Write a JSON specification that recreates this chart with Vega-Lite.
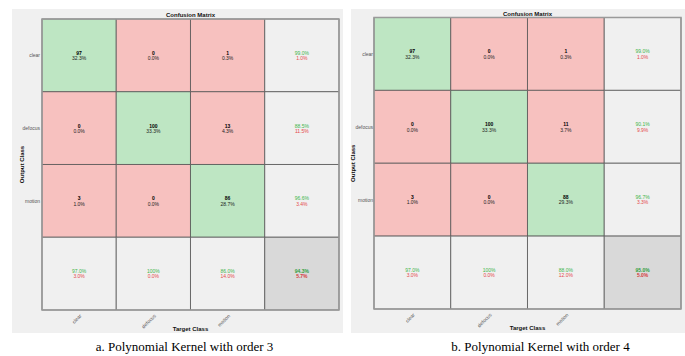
{
  "$schema": "https://vega.github.io/schema/vega-lite/v6.json",
  "background": "#ffffff",
  "padding": {"left": 12, "top": 9, "right": 0, "bottom": 0},
  "spacing": 6,
  "config": {
    "text": {"font": "Liberation Sans"},
    "axis": {"labelFont": "Liberation Sans"}
  },
  "datasets": {
    "a": [
      {"o": "clear", "t": "clear", "k": "hit", "v1": "97", "v2": "32.3%"},
      {"o": "clear", "t": "defocus", "k": "miss", "v1": "0", "v2": "0.0%"},
      {"o": "clear", "t": "motion", "k": "miss", "v1": "1", "v2": "0.3%"},
      {"o": "clear", "t": "total", "k": "sum", "v1": "99.0%", "v2": "1.0%"},
      {"o": "defocus", "t": "clear", "k": "miss", "v1": "0", "v2": "0.0%"},
      {"o": "defocus", "t": "defocus", "k": "hit", "v1": "100", "v2": "33.3%"},
      {"o": "defocus", "t": "motion", "k": "miss", "v1": "13", "v2": "4.3%"},
      {"o": "defocus", "t": "total", "k": "sum", "v1": "88.5%", "v2": "11.5%"},
      {"o": "motion", "t": "clear", "k": "miss", "v1": "3", "v2": "1.0%"},
      {"o": "motion", "t": "defocus", "k": "miss", "v1": "0", "v2": "0.0%"},
      {"o": "motion", "t": "motion", "k": "hit", "v1": "86", "v2": "28.7%"},
      {"o": "motion", "t": "total", "k": "sum", "v1": "96.6%", "v2": "3.4%"},
      {"o": "total", "t": "clear", "k": "sum", "v1": "97.0%", "v2": "3.0%"},
      {"o": "total", "t": "defocus", "k": "sum", "v1": "100%", "v2": "0.0%"},
      {"o": "total", "t": "motion", "k": "sum", "v1": "86.0%", "v2": "14.0%"},
      {"o": "total", "t": "total", "k": "all", "v1": "94.3%", "v2": "5.7%"}
    ],
    "b": [
      {"o": "clear", "t": "clear", "k": "hit", "v1": "97", "v2": "32.3%"},
      {"o": "clear", "t": "defocus", "k": "miss", "v1": "0", "v2": "0.0%"},
      {"o": "clear", "t": "motion", "k": "miss", "v1": "1", "v2": "0.3%"},
      {"o": "clear", "t": "total", "k": "sum", "v1": "99.0%", "v2": "1.0%"},
      {"o": "defocus", "t": "clear", "k": "miss", "v1": "0", "v2": "0.0%"},
      {"o": "defocus", "t": "defocus", "k": "hit", "v1": "100", "v2": "33.3%"},
      {"o": "defocus", "t": "motion", "k": "miss", "v1": "11", "v2": "3.7%"},
      {"o": "defocus", "t": "total", "k": "sum", "v1": "90.1%", "v2": "9.9%"},
      {"o": "motion", "t": "clear", "k": "miss", "v1": "3", "v2": "1.0%"},
      {"o": "motion", "t": "defocus", "k": "miss", "v1": "0", "v2": "0.0%"},
      {"o": "motion", "t": "motion", "k": "hit", "v1": "88", "v2": "29.3%"},
      {"o": "motion", "t": "total", "k": "sum", "v1": "96.7%", "v2": "3.3%"},
      {"o": "total", "t": "clear", "k": "sum", "v1": "97.0%", "v2": "3.0%"},
      {"o": "total", "t": "defocus", "k": "sum", "v1": "100%", "v2": "0.0%"},
      {"o": "total", "t": "motion", "k": "sum", "v1": "88.0%", "v2": "12.0%"},
      {"o": "total", "t": "total", "k": "all", "v1": "95.0%", "v2": "5.0%"}
    ]
  },
  "hconcat": [
    {
      "width": 331,
      "height": 324,
      "data": {"name": "a"},
      "view": {"fill": "#f0f0f0", "stroke": null},
      "title": {"text": "a. Polynomial Kernel with order 3", "orient": "bottom", "font": "Liberation Serif", "fontSize": 13, "fontWeight": "normal", "color": "#000000", "offset": 8, "dx": 7},
      "encoding": {
        "x": {"field": "t", "type": "nominal", "scale": {"domain": ["clear", "defocus", "motion", "total"], "paddingInner": 0, "paddingOuter": 0.229, "align": 0.882},
          "axis": {"orient": "bottom", "offset": -23, "title": null, "domain": false, "ticks": false, "grid": false, "labelAngle": -45, "labelFontSize": 5, "labelColor": "#555555", "labelPadding": 3, "labelExpr": "datum.label == 'total' ? '' : datum.label", "zindex": 1}},
        "y": {"field": "o", "type": "nominal", "scale": {"domain": ["clear", "defocus", "motion", "total"], "paddingInner": 0, "paddingOuter": 0.2268, "align": 0.303},
          "axis": {"orient": "left", "offset": -29, "title": null, "domain": false, "ticks": false, "grid": false, "labelFontSize": 5, "labelColor": "#555555", "labelPadding": 1.5, "labelExpr": "datum.label == 'total' ? '' : datum.label", "zindex": 1}}
      },
      "layer": [
        {"mark": {"type": "rect", "stroke": "#555555", "strokeWidth": 0.8},
          "encoding": {"color": {"field": "k", "type": "nominal", "scale": {"domain": ["hit", "miss", "sum", "all"], "range": ["#bee6c3", "#f7c1bf", "#f0f0f0", "#d9d9d9"]}, "legend": null}}},
        {"data": {"values": [{}]}, "mark": {"type": "rect", "fill": "transparent", "stroke": "#9a9a9a", "strokeWidth": 1.5},
          "encoding": {"x": {"datum": "clear", "bandPosition": 0}, "x2": {"datum": "total", "bandPosition": 1}, "y": {"datum": "clear", "bandPosition": 0}, "y2": {"datum": "total", "bandPosition": 1}}},
        {"transform": [{"filter": "datum.k == 'hit' || datum.k == 'miss'"}], "mark": {"type": "text", "fontSize": 5, "fontWeight": "bold", "color": "#000000", "dy": -2.5}, "encoding": {"text": {"field": "v1"}}},
        {"transform": [{"filter": "datum.k == 'hit' || datum.k == 'miss'"}], "mark": {"type": "text", "fontSize": 5, "color": "#222222", "dy": 2.8}, "encoding": {"text": {"field": "v2"}}},
        {"transform": [{"filter": "datum.k == 'sum'"}], "mark": {"type": "text", "fontSize": 5, "color": "#3db54a", "dy": -2.5}, "encoding": {"text": {"field": "v1"}}},
        {"transform": [{"filter": "datum.k == 'sum'"}], "mark": {"type": "text", "fontSize": 5, "color": "#e5484a", "dy": 2.8}, "encoding": {"text": {"field": "v2"}}},
        {"transform": [{"filter": "datum.k == 'all'"}], "mark": {"type": "text", "fontSize": 5, "fontWeight": "bold", "color": "#2f9e3d", "dy": -2.5}, "encoding": {"text": {"field": "v1"}}},
        {"transform": [{"filter": "datum.k == 'all'"}], "mark": {"type": "text", "fontSize": 5, "fontWeight": "bold", "color": "#d63a3c", "dy": 2.8}, "encoding": {"text": {"field": "v2"}}},
        {"data": {"values": [{"label": "Confusion Matrix"}]}, "mark": {"type": "text", "fontSize": 6, "fontWeight": "bold", "color": "#111111", "dy": -3.8}, "encoding": {"text": {"field": "label"}, "x": {"datum": "motion", "bandPosition": 0}, "y": {"datum": "clear", "bandPosition": 0}}},
        {"data": {"values": [{"label": "Output Class"}]}, "mark": {"type": "text", "fontSize": 6, "fontWeight": "bold", "color": "#111111", "angle": 270, "dx": 0, "dy": -20}, "encoding": {"text": {"field": "label"}, "x": {"datum": "clear", "bandPosition": 0}, "y": {"datum": "motion", "bandPosition": 0}}},
        {"data": {"values": [{"label": "Target Class"}]}, "mark": {"type": "text", "fontSize": 6, "fontWeight": "bold", "color": "#111111", "dy": 19}, "encoding": {"text": {"field": "label"}, "x": {"datum": "motion", "bandPosition": 0}, "y": {"datum": "total", "bandPosition": 1}}}
      ]
    },
    {
      "width": 335,
      "height": 324,
      "data": {"name": "b"},
      "view": {"fill": "#f0f0f0", "stroke": null},
      "title": {"text": "b. Polynomial Kernel with order 4", "orient": "bottom", "font": "Liberation Serif", "fontSize": 13, "fontWeight": "normal", "color": "#000000", "offset": 8, "dx": 22},
      "encoding": {
        "x": {"field": "t", "type": "nominal", "scale": {"domain": ["clear", "defocus", "motion", "total"], "paddingInner": 0, "paddingOuter": 0.1824, "align": 0.821},
          "axis": {"orient": "bottom", "offset": -24, "title": null, "domain": false, "ticks": false, "grid": false, "labelAngle": -45, "labelFontSize": 5, "labelColor": "#555555", "labelPadding": 3, "labelExpr": "datum.label == 'total' ? '' : datum.label", "zindex": 1}},
        "y": {"field": "o", "type": "nominal", "scale": {"domain": ["clear", "defocus", "motion", "total"], "paddingInner": 0, "paddingOuter": 0.223, "align": 0.2615},
          "axis": {"orient": "left", "offset": -23, "title": null, "domain": false, "ticks": false, "grid": false, "labelFontSize": 5, "labelColor": "#555555", "labelPadding": 1.5, "labelExpr": "datum.label == 'total' ? '' : datum.label", "zindex": 1}}
      },
      "layer": [
        {"mark": {"type": "rect", "stroke": "#555555", "strokeWidth": 0.8},
          "encoding": {"color": {"field": "k", "type": "nominal", "scale": {"domain": ["hit", "miss", "sum", "all"], "range": ["#bee6c3", "#f7c1bf", "#f0f0f0", "#d9d9d9"]}, "legend": null}}},
        {"data": {"values": [{}]}, "mark": {"type": "rect", "fill": "transparent", "stroke": "#9a9a9a", "strokeWidth": 1.5},
          "encoding": {"x": {"datum": "clear", "bandPosition": 0}, "x2": {"datum": "total", "bandPosition": 1}, "y": {"datum": "clear", "bandPosition": 0}, "y2": {"datum": "total", "bandPosition": 1}}},
        {"transform": [{"filter": "datum.k == 'hit' || datum.k == 'miss'"}], "mark": {"type": "text", "fontSize": 5, "fontWeight": "bold", "color": "#000000", "dy": -2.5}, "encoding": {"text": {"field": "v1"}}},
        {"transform": [{"filter": "datum.k == 'hit' || datum.k == 'miss'"}], "mark": {"type": "text", "fontSize": 5, "color": "#222222", "dy": 2.8}, "encoding": {"text": {"field": "v2"}}},
        {"transform": [{"filter": "datum.k == 'sum'"}], "mark": {"type": "text", "fontSize": 5, "color": "#3db54a", "dy": -2.5}, "encoding": {"text": {"field": "v1"}}},
        {"transform": [{"filter": "datum.k == 'sum'"}], "mark": {"type": "text", "fontSize": 5, "color": "#e5484a", "dy": 2.8}, "encoding": {"text": {"field": "v2"}}},
        {"transform": [{"filter": "datum.k == 'all'"}], "mark": {"type": "text", "fontSize": 5, "fontWeight": "bold", "color": "#2f9e3d", "dy": -2.5}, "encoding": {"text": {"field": "v1"}}},
        {"transform": [{"filter": "datum.k == 'all'"}], "mark": {"type": "text", "fontSize": 5, "fontWeight": "bold", "color": "#d63a3c", "dy": 2.8}, "encoding": {"text": {"field": "v2"}}},
        {"data": {"values": [{"label": "Confusion Matrix"}]}, "mark": {"type": "text", "fontSize": 6, "fontWeight": "bold", "color": "#111111", "dy": -3.5}, "encoding": {"text": {"field": "label"}, "x": {"datum": "motion", "bandPosition": 0}, "y": {"datum": "clear", "bandPosition": 0}}},
        {"data": {"values": [{"label": "Output Class"}]}, "mark": {"type": "text", "fontSize": 6, "fontWeight": "bold", "color": "#111111", "angle": 270, "dx": 0, "dy": -21}, "encoding": {"text": {"field": "label"}, "x": {"datum": "clear", "bandPosition": 0}, "y": {"datum": "motion", "bandPosition": 0}}},
        {"data": {"values": [{"label": "Target Class"}]}, "mark": {"type": "text", "fontSize": 6, "fontWeight": "bold", "color": "#111111", "dy": 19}, "encoding": {"text": {"field": "label"}, "x": {"datum": "motion", "bandPosition": 0}, "y": {"datum": "total", "bandPosition": 1}}}
      ]
    }
  ]
}
